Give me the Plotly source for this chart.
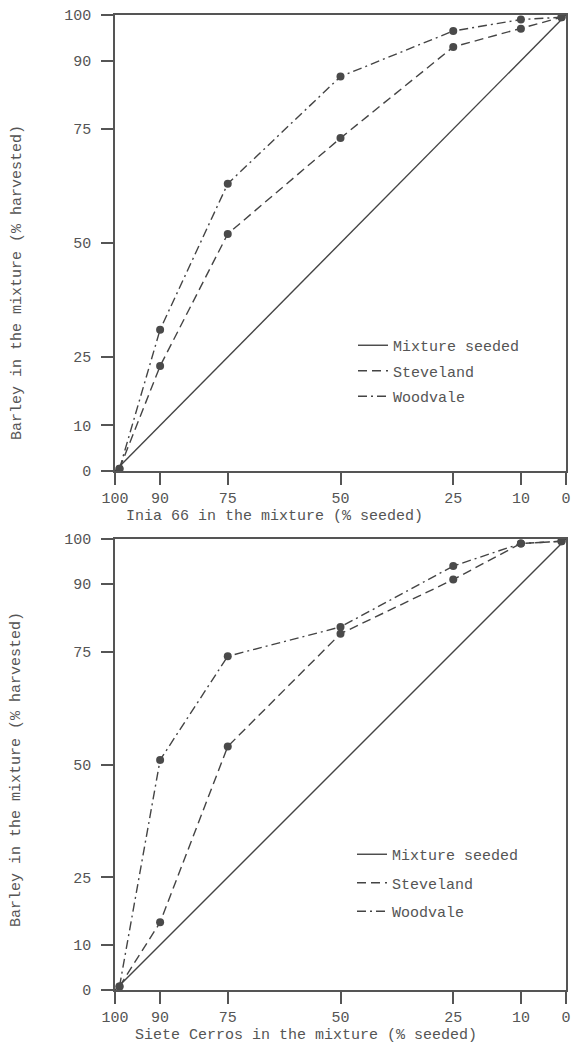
import plotly.graph_objects as go

# ---- data ----
seeded_pct = [99, 90, 75, 50, 25, 10, 1]
tick_vals = [0, 10, 25, 50, 75, 90, 100]
tick_text = ["0", "10", "25", "50", "75", "90", "100"]
diag_x = [100, 0]
diag_y = [0, 100]

inia_steveland = [0.5, 23, 52, 73, 93, 97, 99.5]
inia_woodvale = [0.5, 31, 63, 86.5, 96.5, 99, 99.5]
siete_steveland = [0.8, 15, 54, 79, 91, 99, 99.5]
siete_woodvale = [0.8, 51, 74, 80.5, 94, 99, 99.5]

series_names = ["Mixture seeded", "Steveland", "Woodvale"]
x_titles = ["Inia 66 in the mixture (% seeded)", "Siete Cerros in the mixture (% seeded)"]
y_title = "Barley in the mixture (% harvested)"

FONT = "Liberation Mono"
INK = "#444444"
TXT = "#555555"
DASH_S = "9px,5px"
DASH_W = "9px,4px,2px,4px"

W, H = 571, 1044
L, R, T, B = 115, 5, 15, 54
PW, PH = W - L - R, H - T - B


def px_x(p):
    return (p - L) / PW


def px_y(p):
    return (H - B - p) / PH


def cx(p):
    return p / W


def cy(p):
    return 1 - p / H


fig = go.Figure()

panels = [
    ("x", "y", "legend", inia_steveland, inia_woodvale),
    ("x2", "y2", "legend2", siete_steveland, siete_woodvale),
]

for xa, ya, lg, stv, wdv in panels:
    fig.add_trace(go.Scatter(
        x=diag_x, y=diag_y, mode="lines", name=series_names[0],
        line=dict(color=INK, width=1.4), xaxis=xa, yaxis=ya,
        legend=lg, legendgroup=lg + "a", cliponaxis=False))
    fig.add_trace(go.Scatter(
        x=seeded_pct, y=stv, mode="lines", name=series_names[1],
        line=dict(color=INK, width=1.4, dash=DASH_S), xaxis=xa, yaxis=ya,
        legend=lg, legendgroup=lg + "b", cliponaxis=False))
    fig.add_trace(go.Scatter(
        x=seeded_pct, y=wdv, mode="lines", name=series_names[2],
        line=dict(color=INK, width=1.4, dash=DASH_W), xaxis=xa, yaxis=ya,
        legend=lg, legendgroup=lg + "c", cliponaxis=False))
    for ys in (stv, wdv):
        fig.add_trace(go.Scatter(
            x=seeded_pct, y=ys, mode="markers", showlegend=False,
            marker=dict(color="#4a4a4a", size=8), xaxis=xa, yaxis=ya,
            cliponaxis=False, hoverinfo="skip"))

axis_common = dict(
    showgrid=False, zeroline=False, showline=True, mirror=True,
    linecolor=TXT, linewidth=1.5, ticks="outside", ticklen=12,
    tickwidth=1.5, tickcolor=TXT, tickmode="array",
    tickvals=tick_vals, ticktext=tick_text, tickangle=0,
    ticklabeloverflow="allow",
    tickfont=dict(family=FONT, size=15, color=TXT),
)

top_lo = px_y(471)
bot_hi = px_y(539)

fig.update_layout(
    width=W, height=H,
    margin=dict(l=L, r=R, t=T, b=B, autoexpand=False),
    paper_bgcolor="white", plot_bgcolor="white",
    font=dict(family=FONT, color=TXT, size=15),
    xaxis=dict(axis_common, domain=[0, 1], range=[100, 0], anchor="y",
               ticklabelstandoff=0),
    yaxis=dict(axis_common, domain=[top_lo, 1], range=[0, 100], anchor="x",
               ticklabelstandoff=7),
    xaxis2=dict(axis_common, domain=[0, 1], range=[100, 0], anchor="y2",
                ticklabelstandoff=0),
    yaxis2=dict(axis_common, domain=[0, bot_hi], range=[0, 100], anchor="x2",
                ticklabelstandoff=7),
    legend=dict(xref="container", yref="container", x=cx(353), y=cy(329),
                xanchor="left", yanchor="top", bgcolor="rgba(0,0,0,0)",
                font=dict(family=FONT, size=15, color=TXT),
                traceorder="grouped", tracegroupgap=3, borderwidth=0),
    legend2=dict(xref="container", yref="container", x=cx(352), y=cy(838),
                 xanchor="left", yanchor="top", bgcolor="rgba(0,0,0,0)",
                 font=dict(family=FONT, size=15, color=TXT),
                 traceorder="grouped", tracegroupgap=6, borderwidth=0),
    showlegend=True,
)

annos = [
    dict(text=x_titles[0], x=px_x(274), y=px_y(516)),
    dict(text=x_titles[1], x=px_x(306), y=px_y(1035)),
    dict(text=y_title, x=px_x(17), y=px_y(283), textangle=-90),
    dict(text=y_title, x=px_x(16), y=px_y(770), textangle=-90),
]
for a in annos:
    fig.add_annotation(xref="paper", yref="paper", showarrow=False,
                       xanchor="center", yanchor="middle",
                       font=dict(family=FONT, size=15, color=TXT), **a)

fig.write_html(
    "out.html",
    config={"displayModeBar": False},
    post_script="document.body.style.margin='0px';"
                "document.body.style.overflow='hidden';",
)
